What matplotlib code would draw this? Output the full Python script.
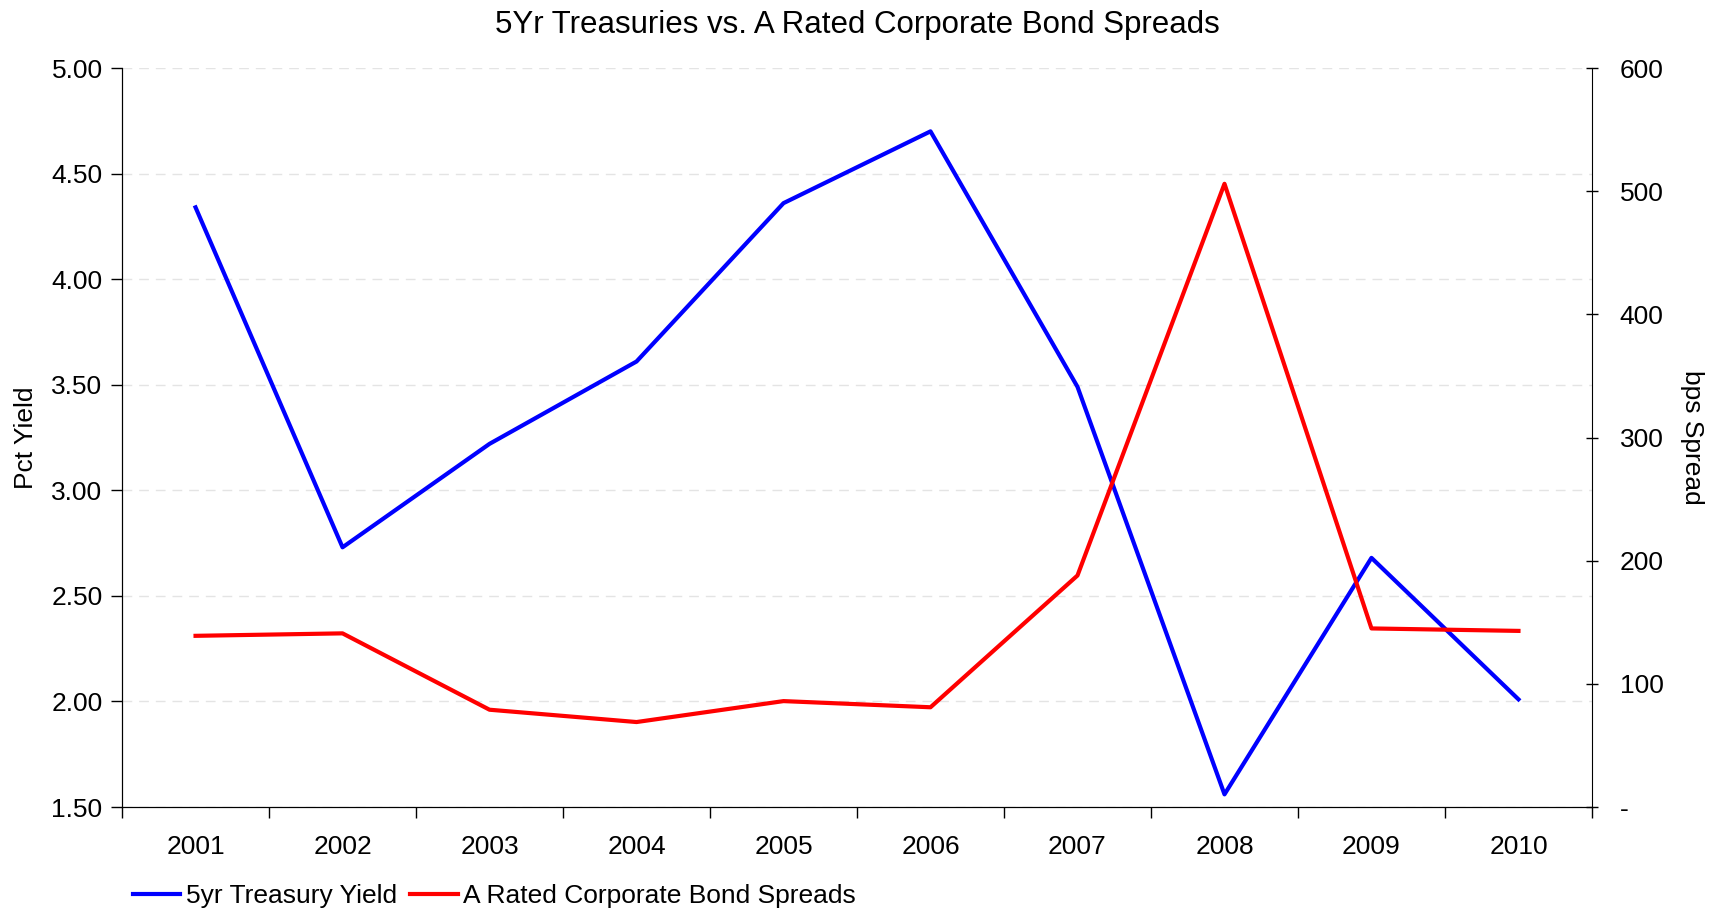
import numpy as np
import matplotlib.pyplot as plt

plt.rcParams['font.family'] = ['Liberation Sans', 'DejaVu Sans']

# Data
years = ['2001', '2002', '2003', '2004', '2005', '2006', '2007', '2008', '2009', '2010']
treasury_yield = [4.34, 2.73, 3.22, 3.61, 4.36, 4.70, 3.49, 1.56, 2.68, 2.01]
bond_spreads = [139, 141, 79, 69, 86, 81, 188, 506, 145, 143]

fig = plt.figure(figsize=(17.19, 9.08), dpi=100)
ax = fig.add_axes([0.0710, 0.1112, 0.8551, 0.8139])
ax2 = ax.twinx()

x = np.arange(len(years))
l1, = ax.plot(x, treasury_yield, color='#0000ff', lw=3, label='5yr Treasury Yield')
l2, = ax2.plot(x, bond_spreads, color='#ff0000', lw=3, label='A Rated Corporate Bond Spreads')

# left axis
ax.set_ylim(1.5, 5.0)
ax.set_yticks(np.arange(1.5, 5.01, 0.5))
ax.set_yticklabels(['%.2f' % v for v in np.arange(1.5, 5.01, 0.5)])
ax.yaxis.grid(True, color='#e4e4e4', ls=(0, (7, 5)), lw=1)
ax.set_axisbelow(True)
ax.set_ylabel('Pct Yield', fontsize=19)
ax.yaxis.set_label_coords(-0.057, 0.5)

# x axis: labels in the middle, ticks at boundaries
ax.set_xlim(-0.5, len(years) - 0.5)
ax.set_xticks(x)
ax.set_xticklabels(years)
ax.tick_params(axis='x', which='major', length=0, pad=20)
ax.set_xticks(np.arange(-0.5, len(years), 1.0), minor=True)
ax.tick_params(axis='x', which='minor', length=8, width=1, direction='out')
ax.tick_params(axis='y', length=8, width=1, direction='out', pad=6)
ax.tick_params(labelsize=19)

# right axis
ax2.set_ylim(0, 600)
ax2.set_yticks(np.arange(0, 601, 100))
ax2.set_yticklabels(['-'] + [str(v) for v in range(100, 601, 100)])
ax2.tick_params(axis='y', length=8, width=1, direction='inout', labelsize=19, pad=16)
fig.text(1692 / 1719, 0.518, 'bps Spread', fontsize=19, rotation=270,
         ha='center', va='center')

for a in (ax, ax2):
    a.spines['top'].set_visible(False)
ax.spines['right'].set_visible(False)

ax.set_title('5Yr Treasuries vs. A Rated Corporate Bond Spreads', fontsize=22.5, pad=25)

fig.legend(handles=[l1, l2], loc='center left', bbox_to_anchor=(0.0635, 0.013),
           ncol=2, frameon=False, fontsize=19, handlelength=1.8,
           handletextpad=0.2, columnspacing=0.5)

fig.savefig('out.png', dpi=100)
